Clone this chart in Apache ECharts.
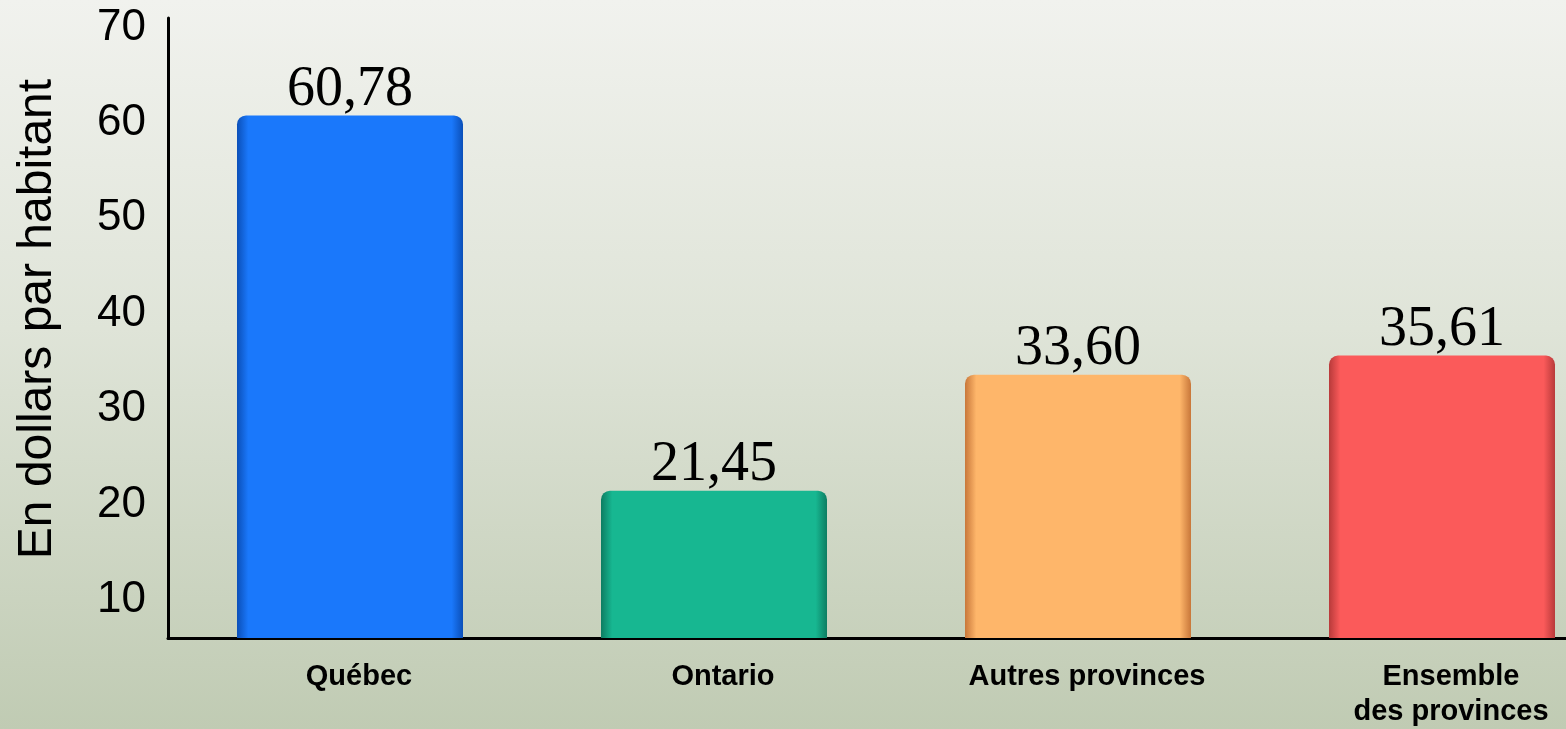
<!DOCTYPE html>
<html>
<head>
<meta charset="utf-8">
<script src="https://cdn.jsdelivr.net/npm/echarts@6/dist/echarts.min.js"></script>
<style>
  html, body { margin: 0; padding: 0; overflow: hidden; }
  body {
    width: 1566px;
    height: 729px;
    background: linear-gradient(180deg, #f1f2ee 0%, #dfe4d8 45%, #c0cbb3 100%);
  }
  /* wider than the window so the last category keeps the same spacing */
  #chart { width: 1630px; height: 729px; }
</style>
</head>
<body>
<div id="chart"></div>
<script>
const categories = ['Québec', 'Ontario', 'Autres provinces', 'Ensemble\ndes provinces']
const values = [60.78, 21.45, 33.60, 35.61]
const yTicks = [10, 20, 30, 40, 50, 60, 70]

// main colour, edge shade
const barColors = [
  ['#1a78fb', '#0b4fb8'],
  ['#17b791', '#0d7d62'],
  ['#feb66a', '#c8773a'],
  ['#fb5a5a', '#b83a3a']
]

function barGradient(c) {
  return new echarts.graphic.LinearGradient(0, 0, 1, 0, [
    { offset: 0, color: c[1] },
    { offset: 0.05, color: c[0] },
    { offset: 0.95, color: c[0] },
    { offset: 1, color: c[1] }
  ])
}

const chart = echarts.init(document.getElementById('chart'))
chart.setOption({
  animation: false,
  grid: { left: 168, top: 18, bottom: 88, width: 1456 },
  xAxis: {
    type: 'category',
    data: categories,
    axisLine: { lineStyle: { color: '#000', width: 3 } },
    axisTick: { show: false },
    axisLabel: {
      color: '#000',
      fontFamily: 'Liberation Sans, Arial, sans-serif',
      fontWeight: 'bold',
      fontSize: 29,
      lineHeight: 35,
      margin: 21,
      padding: [0, 0, 0, 18]
    }
  },
  yAxis: {
    type: 'value',
    min: 6,
    max: 71,
    name: 'En dollars par habitant',
    nameLocation: 'middle',
    nameGap: 106,
    nameTextStyle: {
      color: '#000',
      fontFamily: 'Liberation Sans, Arial, sans-serif',
      fontSize: 48,
      padding: [0, 0, 0, 18]
    },
    axisLine: { show: true, lineStyle: { color: '#000', width: 3 } },
    axisTick: { show: false },
    splitLine: { show: false },
    axisLabel: {
      customValues: yTicks,
      color: '#000',
      fontFamily: 'Liberation Sans, Arial, sans-serif',
      fontSize: 44,
      margin: 22
    }
  },
  series: [{
    type: 'bar',
    barWidth: 226,
    data: values.map((v, i) => ({
      value: v,
      itemStyle: { color: barGradient(barColors[i]), borderRadius: [9, 9, 0, 0] }
    })),
    label: {
      show: true,
      position: 'top',
      distance: -3,
      color: '#000',
      fontFamily: 'Liberation Serif, Times New Roman, serif',
      fontSize: 56,
      formatter: p => p.value.toFixed(2).replace('.', ',')
    }
  }]
})
</script>
</body>
</html>
